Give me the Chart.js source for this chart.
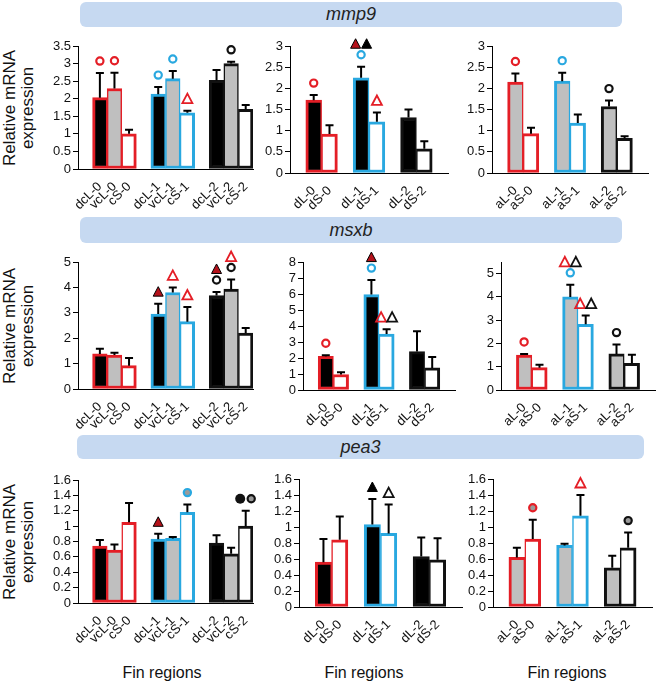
<!DOCTYPE html>
<html>
<head>
<meta charset="utf-8">
<script src="https://cdn.jsdelivr.net/npm/chart.js@4.4.0/dist/chart.umd.min.js"></script>
<style>
  body { margin: 0; background: #fff; width: 658px; height: 685px; position: relative; overflow: hidden;
         font-family: 'Liberation Sans', Arial, sans-serif; }
  canvas { position: absolute; }
  .banner { position: absolute; background: #c6d9f1; border-radius: 6px; text-align: center;
            font-style: italic; font-size: 18px; color: #222; }
  .ytitle { position: absolute; width: 160px; height: 36px; transform: rotate(-90deg); text-align: center;
            font-size: 17px; line-height: 18px; color: #111; white-space: nowrap; }
  .xtitle { position: absolute; width: 120px; text-align: center; font-size: 16px; line-height: 18px; color: #111; }
</style>
</head>
<body>
<div class="banner" style="left:80px;top:2px;width:542px;height:25px;line-height:25px">mmp9</div>
<div class="banner" style="left:80px;top:217px;width:542px;height:26px;line-height:26px">msxb</div>
<div class="banner" style="left:77px;top:435px;width:567px;height:24px;line-height:24px">pea3</div>

<div class="ytitle" style="left:-61px;top:90px">Relative mRNA<br>expression</div>
<div class="ytitle" style="left:-61px;top:308px">Relative mRNA<br>expression</div>
<div class="ytitle" style="left:-61px;top:524px">Relative mRNA<br>expression</div>

<div class="xtitle" style="left:102px;top:664px">Fin regions</div>
<div class="xtitle" style="left:304px;top:664px">Fin regions</div>
<div class="xtitle" style="left:507px;top:664px">Fin regions</div>

<script>
// categories
const catsC = ['dcL-0', 'vcL-0', 'cS-0', 'dcL-1', 'vcL-1', 'cS-1', 'dcL-2', 'vcL-2', 'cS-2'];
const catsD = ['dL-0', 'dS-0', 'dL-1', 'dS-1', 'dL-2', 'dS-2'];
const catsA = ['aL-0', 'aS-0', 'aL-1', 'aS-1', 'aL-2', 'aS-2'];

// mmp9
const mmp9C = [2.03, 2.29, 1.0, 2.13, 2.57, 1.6, 2.52, 3.0, 1.7];
const mmp9CErr = [0.7, 0.45, 0.12, 0.2, 0.22, 0.06, 0.3, 0.05, 0.12];
const mmp9D = [1.72, 0.92, 2.25, 1.21, 1.31, 0.57];
const mmp9DErr = [0.12, 0.21, 0.26, 0.22, 0.19, 0.18];
const mmp9A = [2.15, 0.93, 2.17, 1.18, 1.57, 0.82];
const mmp9AErr = [0.2, 0.14, 0.2, 0.2, 0.14, 0.05];

// msxb
const msxbC = [1.38, 1.34, 0.92, 2.95, 3.8, 2.65, 3.68, 3.93, 2.2];
const msxbCErr = [0.2, 0.09, 0.3, 0.41, 0.2, 0.58, 0.14, 0.38, 0.2];
const msxbD = [2.1, 0.97, 5.97, 3.5, 2.4, 1.38];
const msxbDErr = [0.07, 0.14, 0.9, 0.3, 1.27, 0.68];
const msxbA = [1.5, 0.96, 4.0, 2.82, 1.55, 1.15];
const msxbAErr = [0.05, 0.13, 0.52, 0.38, 0.4, 0.37];

// pea3
const pea3C = [0.74, 0.69, 1.05, 0.83, 0.84, 1.18, 0.78, 0.64, 1.0];
const pea3CErr = [0.08, 0.07, 0.25, 0.07, 0.02, 0.1, 0.1, 0.08, 0.2];
const pea3D = [0.56, 0.84, 1.03, 0.92, 0.63, 0.59];
const pea3DErr = [0.29, 0.29, 0.32, 0.36, 0.24, 0.27];
const pea3A = [0.62, 0.85, 0.77, 1.14, 0.49, 0.74];
const pea3AErr = [0.12, 0.24, 0.02, 0.26, 0.15, 0.19];

// significance marks: rows bottom->top split by '|', side by side by ' '
// o = open circle, g = grey circle, f = filled circle, T = filled triangle, t = open triangle; R/C/K = colour
const mmp9CMarks = ['oR', 'oR', '', 'oC', 'oC', 'tR', '', 'oK', ''];
const mmp9DMarks = ['oR', '', 'oC|TR TK', 'tR', '', ''];
const mmp9AMarks = ['oR', '', 'oC', '', 'oK', ''];
const msxbCMarks = ['', '', '', 'TR', 'tR', 'tR', 'oK|TR', 'oK|tR', ''];
const msxbDMarks = ['oR', '', 'oC|TR', 'tR tK', '', ''];
const msxbAMarks = ['oR', '', 'oC|tR tK', 'tR tK', 'oK', ''];
const pea3CMarks = ['', '', '', 'TR', '', 'gC', '', '', 'fK gK'];
const pea3DMarks = ['', '', 'TK', 'tK', '', ''];
const pea3AMarks = ['', 'gR', '', 'tR', '', 'gK'];

const RED = '#e41e26', CYAN = '#29a8e0', BLACK = '#111', GREY = '#bfbfbf';
const groupColors = [RED, CYAN, BLACK];
const fillsC = ['#000', GREY, '#fff'];
const fillsD = ['#000', '#fff'];
const fillsA = [GREY, '#fff'];
const markColors = { R: RED, C: CYAN, K: BLACK };
const FONT = "'Liberation Sans', Arial, sans-serif";

function drawMark(ctx, code, x, y) {
  const shape = code[0], col = markColors[code[1]];
  ctx.beginPath();
  if (shape === 'o' || shape === 'g' || shape === 'f') {
    ctx.arc(x, y, shape === 'f' ? 5 : 3.6, 0, Math.PI * 2);
    if (shape === 'g') { ctx.fillStyle = '#9a9a9a'; ctx.fill(); }
    if (shape === 'f') { ctx.fillStyle = col; ctx.fill(); return; }
    ctx.strokeStyle = col; ctx.lineWidth = 2.2; ctx.stroke();
  } else {
    ctx.moveTo(x, y - 5); ctx.lineTo(x - 5, y + 4.5); ctx.lineTo(x + 5, y + 4.5); ctx.closePath();
    if (shape === 'T') {
      ctx.fillStyle = code[1] === 'R' ? '#b5121b' : '#000'; ctx.fill();
      ctx.strokeStyle = '#000'; ctx.lineWidth = 1; ctx.stroke();
    } else {
      ctx.strokeStyle = col; ctx.lineWidth = 1.8; ctx.stroke();
    }
  }
}

const extras = {
  id: 'extras',
  afterDatasetsDraw(chart) {
    const ctx = chart.ctx, ds = chart.data.datasets[0], y = chart.scales.y;
    ctx.save();
    chart.getDatasetMeta(0).data.forEach((bar, i) => {
      const v = ds.data[i];
      if (v == null) return;
      const yv = y.getPixelForValue(v), ye = y.getPixelForValue(v + ds.errs[i]);
      ctx.strokeStyle = '#000'; ctx.lineWidth = 2;
      ctx.beginPath();
      ctx.moveTo(bar.x, yv); ctx.lineTo(bar.x, ye);
      ctx.moveTo(bar.x - 4, ye); ctx.lineTo(bar.x + 4, ye);
      ctx.stroke();
      const m = ds.marks[i];
      if (!m) return;
      m.split('|').forEach((row, r) => {
        const items = row.split(' ');
        const cy = ye - 12 - r * 11;
        items.forEach((code, k) => drawMark(ctx, code, bar.x + (k - (items.length - 1) / 2) * 11, cy));
      });
    });
    ctx.restore();
  }
};

const PT = 22, PR = 6, XH = 50, YW = 40;

function panel(box, cats, vals, errs, marks, size, fills, ymax, step, trailing) {
  const labels = [], data = [], eb = [], mk = [], bg = [], bc = [];
  for (let g = 0; g < cats.length / size; g++) {
    labels.push(''); data.push(null); eb.push(0); mk.push(''); bg.push('#fff'); bc.push('#fff');
    for (let k = 0; k < size; k++) {
      const i = g * size + k;
      labels.push(cats[i]); data.push(vals[i]); eb.push(errs[i]); mk.push(marks[i]);
      bg.push(fills[k]); bc.push(groupColors[g]);
    }
  }
  if (trailing) { labels.push(''); data.push(null); eb.push(0); mk.push(''); bg.push('#fff'); bc.push('#fff'); }

  const cv = document.createElement('canvas');
  const left = box.x - YW, top = box.top - PT;
  cv.width = box.right - left + PR;
  cv.height = box.bottom - box.top + PT + XH;
  cv.style.left = left + 'px';
  cv.style.top = top + 'px';
  document.body.appendChild(cv);

  new Chart(cv, {
    type: 'bar',
    data: {
      labels,
      datasets: [{
        data, errs: eb, marks: mk,
        backgroundColor: bg, borderColor: bc,
        borderWidth: c => {
          const i = c.dataIndex;
          const first = labels[i - 1] === '';
          const last = i === labels.length - 1 || labels[i + 1] === '';
          return { top: 3, bottom: 3, left: first ? 3 : 1.5, right: last ? 3 : 1.5 };
        },
        borderSkipped: false,
        barPercentage: 1,
        categoryPercentage: 1
      }]
    },
    options: {
      responsive: false,
      animation: false,
      events: [],
      layout: { padding: { top: PT, right: PR, left: 0, bottom: 0 } },
      plugins: { legend: { display: false }, tooltip: { enabled: false } },
      scales: {
        x: {
          grid: { display: false },
          border: { color: '#000', width: 1 },
          ticks: { autoSkip: false, minRotation: 45, maxRotation: 45, color: '#111', padding: 2,
                   font: { size: 13, family: FONT } },
          afterFit: s => { s.height = XH; }
        },
        y: {
          min: 0, max: ymax,
          grid: { drawOnChartArea: false, drawTicks: true, tickLength: 5, color: '#000' },
          border: { color: '#000', width: 1 },
          ticks: { stepSize: step, includeBounds: false, autoSkip: false, color: '#111', padding: 2,
                   font: { size: 13, family: FONT },
                   callback: v => String(Math.round(v * 10) / 10) },
          afterFit: s => { s.width = YW; }
        }
      }
    },
    plugins: [extras]
  });
}

panel({ x: 78, top: 46, bottom: 169, right: 253 }, catsC, mmp9C, mmp9CErr, mmp9CMarks, 3, fillsC, 3.5, 0.5, false);
panel({ x: 290, top: 46, bottom: 173, right: 448 }, catsD, mmp9D, mmp9DErr, mmp9DMarks, 2, fillsD, 3, 0.5, true);
panel({ x: 492, top: 46, bottom: 173, right: 648 }, catsA, mmp9A, mmp9AErr, mmp9AMarks, 2, fillsA, 3, 0.5, true);

panel({ x: 78, top: 262, bottom: 389, right: 253 }, catsC, msxbC, msxbCErr, msxbCMarks, 3, fillsC, 5, 1, false);
panel({ x: 303, top: 262, bottom: 390, right: 455 }, catsD, msxbD, msxbDErr, msxbDMarks, 2, fillsD, 8, 1, true);
panel({ x: 501, top: 262, bottom: 390, right: 655 }, catsA, msxbA, msxbAErr, msxbAMarks, 2, fillsA, 5.5, 1, true);

panel({ x: 78, top: 480, bottom: 603, right: 253 }, catsC, pea3C, pea3CErr, pea3CMarks, 3, fillsC, 1.6, 0.2, false);
panel({ x: 299, top: 479, bottom: 607, right: 462 }, catsD, pea3D, pea3DErr, pea3DMarks, 2, fillsD, 1.6, 0.2, true);
panel({ x: 493, top: 479, bottom: 607, right: 652 }, catsA, pea3A, pea3AErr, pea3AMarks, 2, fillsA, 1.6, 0.2, true);
</script>
</body>
</html>
